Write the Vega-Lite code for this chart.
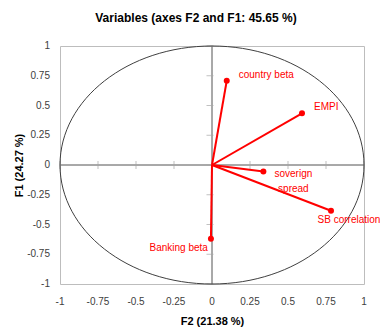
{
  "$schema": "https://vega.github.io/schema/vega-lite/v6.json",
  "width": 304,
  "height": 238,
  "autosize": {"type": "none"},
  "padding": {"left": 60, "top": 46, "right": 16, "bottom": 49},
  "background": "white",
  "title": {
    "text": "Variables (axes F2 and F1: 45.65 %)",
    "font": "Liberation Sans",
    "fontSize": 12,
    "fontWeight": "bold",
    "color": "#000000",
    "anchor": "middle",
    "dx": -16,
    "offset": 7,
    "baseline": "alphabetic"
  },
  "config": {
    "view": {"stroke": "#bdbdbd", "strokeWidth": 1},
    "axis": {
      "grid": false,
      "domain": false,
      "ticks": false,
      "labels": false,
      "titleFont": "Liberation Sans",
      "titleFontSize": 11,
      "titleFontWeight": "bold",
      "titleColor": "#000000"
    }
  },
  "datasets": {
    "vars": [
      {"name": "country beta", "x": 0.097, "y": 0.708},
      {"name": "EMPI", "x": 0.592, "y": 0.434},
      {"name": "soverign\nspread", "x": 0.338, "y": -0.055},
      {"name": "SB correlation", "x": 0.783, "y": -0.384},
      {"name": "Banking beta", "x": -0.007, "y": -0.619}
    ],
    "tickvals": [
      {"t": -1, "label": "-1"}, {"t": -0.75, "label": "-0.75"}, {"t": -0.5, "label": "-0.5"},
      {"t": -0.25, "label": "-0.25"}, {"t": 0, "label": "0"}, {"t": 0.25, "label": "0.25"},
      {"t": 0.5, "label": "0.5"}, {"t": 0.75, "label": "0.75"}, {"t": 1, "label": "1"}
    ],
    "circle": [{"c": "correlation circle"}]
  },
  "data": {"name": "vars"},
  "layer": [
    {
      "mark": {"type": "rule", "color": "#a6a6a6", "strokeWidth": 1},
      "encoding": {
        "x": {
          "datum": 0,
          "type": "quantitative",
          "scale": {"domain": [-1, 1], "nice": false, "zero": false},
          "axis": {"title": "F2 (21.38 %)", "titlePadding": 31}
        }
      }
    },
    {
      "mark": {"type": "rule", "color": "#a6a6a6", "strokeWidth": 1},
      "encoding": {
        "y": {
          "datum": 0,
          "type": "quantitative",
          "scale": {"domain": [-1, 1], "nice": false, "zero": false},
          "axis": {"title": "F1 (24.27 %)", "titlePadding": 36}
        }
      }
    },
    {
      "data": {"name": "tickvals"},
      "mark": {"type": "tick", "orient": "vertical", "size": 8, "thickness": 1, "color": "#a6a6a6"},
      "encoding": {
        "x": {"field": "t", "type": "quantitative"},
        "y": {"datum": 0, "type": "quantitative"}
      }
    },
    {
      "data": {"name": "tickvals"},
      "mark": {"type": "tick", "orient": "horizontal", "size": 7, "thickness": 1, "color": "#a6a6a6", "xOffset": -2},
      "encoding": {
        "y": {"field": "t", "type": "quantitative"},
        "x": {"datum": 0, "type": "quantitative"}
      }
    },
    {
      "data": {"name": "tickvals"},
      "mark": {"type": "text", "align": "center", "baseline": "middle", "dy": 18, "font": "Liberation Sans", "fontSize": 10, "color": "#404040"},
      "encoding": {
        "x": {"field": "t", "type": "quantitative"},
        "y": {"datum": -1, "type": "quantitative"},
        "text": {"field": "label"}
      }
    },
    {
      "data": {"name": "tickvals"},
      "mark": {"type": "text", "align": "right", "baseline": "middle", "dx": -10, "font": "Liberation Sans", "fontSize": 10, "color": "#404040"},
      "encoding": {
        "y": {"field": "t", "type": "quantitative"},
        "x": {"datum": -1, "type": "quantitative"},
        "text": {"field": "label"}
      }
    },
    {
      "data": {"name": "circle"},
      "mark": {
        "type": "point",
        "filled": false,
        "stroke": "#404040",
        "strokeWidth": 1,
        "opacity": 1,
        "size": 92416,
        "shape": "M-1,0C-1,-0.4324,-0.5523,-0.7829,0,-0.7829C0.5523,-0.7829,1,-0.4324,1,0C1,0.4324,0.5523,0.7829,0,0.7829C-0.5523,0.7829,-1,0.4324,-1,0Z"
      },
      "encoding": {
        "x": {"datum": 0, "type": "quantitative"},
        "y": {"datum": 0, "type": "quantitative"}
      }
    },
    {
      "mark": {"type": "rule", "color": "#ff0000", "strokeWidth": 2},
      "encoding": {
        "x": {"field": "x", "type": "quantitative"},
        "y": {"field": "y", "type": "quantitative"},
        "x2": {"datum": 0},
        "y2": {"datum": 0}
      }
    },
    {
      "mark": {"type": "point", "filled": true, "color": "#ff0000", "size": 36, "opacity": 1},
      "encoding": {
        "x": {"field": "x", "type": "quantitative"},
        "y": {"field": "y", "type": "quantitative"}
      }
    },
    {
      "transform": [{"filter": "datum.name == 'country beta' || datum.name == 'EMPI'"}],
      "mark": {"type": "text", "align": "left", "baseline": "middle", "dx": 12, "dy": -6, "font": "Liberation Sans", "fontSize": 10, "color": "#ff0000"},
      "encoding": {"x": {"field": "x", "type": "quantitative"}, "y": {"field": "y", "type": "quantitative"}, "text": {"field": "name"}}
    },
    {
      "transform": [{"filter": "datum.name == 'soverign\\nspread'"}],
      "mark": {"type": "text", "align": "center", "baseline": "middle", "dx": 30, "dy": 2, "lineBreak": "\n", "lineHeight": 15, "font": "Liberation Sans", "fontSize": 10, "color": "#ff0000"},
      "encoding": {"x": {"field": "x", "type": "quantitative"}, "y": {"field": "y", "type": "quantitative"}, "text": {"field": "name"}}
    },
    {
      "transform": [{"filter": "datum.name == 'SB correlation'"}],
      "mark": {"type": "text", "align": "center", "baseline": "middle", "dx": 18, "dy": 9, "font": "Liberation Sans", "fontSize": 10, "color": "#ff0000"},
      "encoding": {"x": {"field": "x", "type": "quantitative"}, "y": {"field": "y", "type": "quantitative"}, "text": {"field": "name"}}
    },
    {
      "transform": [{"filter": "datum.name == 'Banking beta'"}],
      "mark": {"type": "text", "align": "right", "baseline": "middle", "dx": -3, "dy": 9, "font": "Liberation Sans", "fontSize": 10, "color": "#ff0000"},
      "encoding": {"x": {"field": "x", "type": "quantitative"}, "y": {"field": "y", "type": "quantitative"}, "text": {"field": "name"}}
    }
  ]
}
